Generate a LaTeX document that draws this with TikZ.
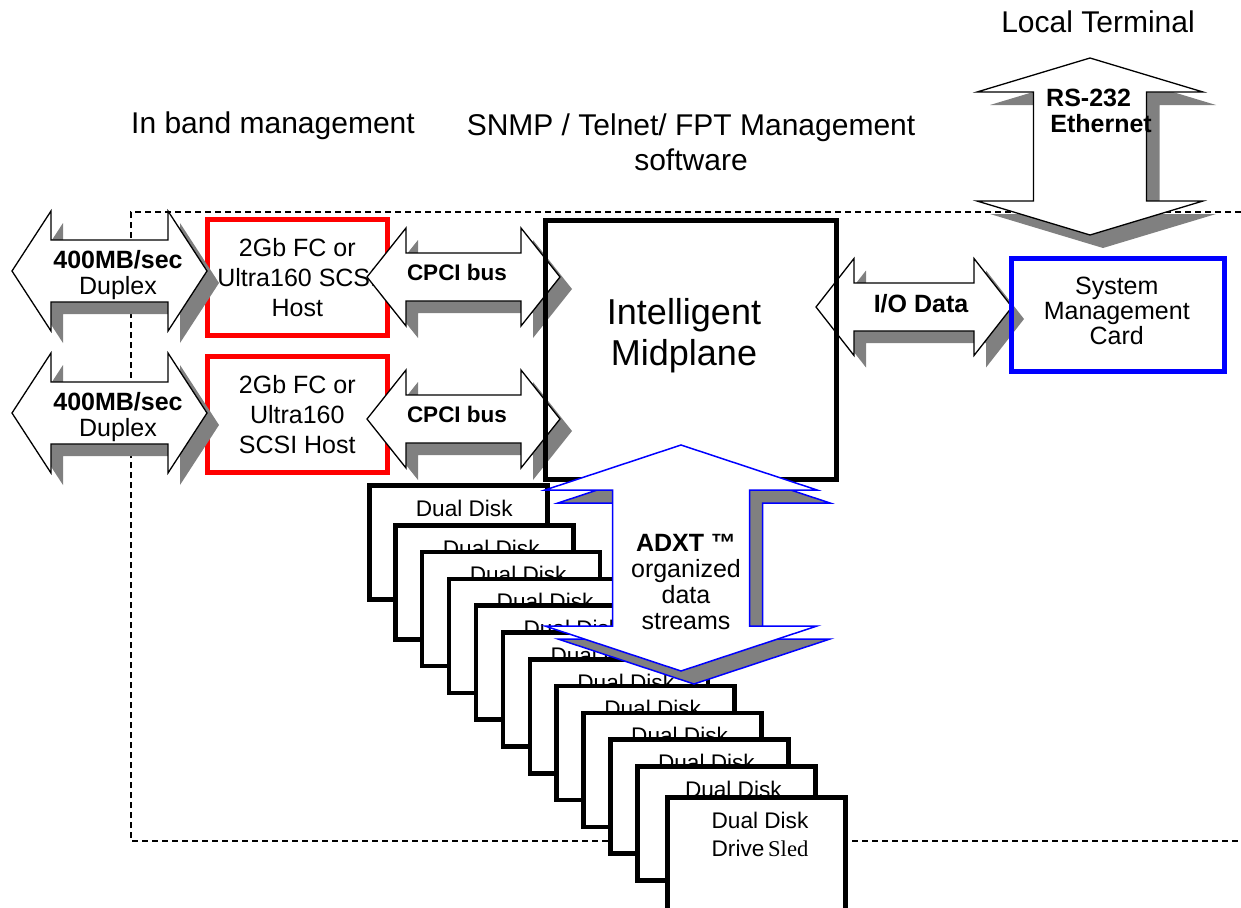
\documentclass[tikz,border=0pt]{standalone}
\usepackage{fontspec}
\setmainfont{Liberation Sans}
\newfontfamily\sledfont{Liberation Serif}
\usetikzlibrary{positioning,calc}

\newcommand{\fsTop}{\fontsize{30}{35}\selectfont}
\newcommand{\fsMid}{\fontsize{25}{30}\selectfont}
\newcommand{\fsBus}{\fontsize{22.5}{27}\selectfont}
\newcommand{\fsDisk}{\fontsize{22.6}{28}\selectfont}
\newcommand{\fsBig}{\fontsize{36}{41}\selectfont}

% block arrow outlines: x1, x2, yc, head length, shaft half, head half
\newcommand{\hdpath}[6]{(#1,#3) -- ({#1+#4},{#3-#6}) -- ({#1+#4},{#3-#5}) -- ({#2-#4},{#3-#5}) -- ({#2-#4},{#3-#6}) -- (#2,#3) -- ({#2-#4},{#3+#6}) -- ({#2-#4},{#3+#5}) -- ({#1+#4},{#3+#5}) -- ({#1+#4},{#3+#6}) -- cycle}
% xc, y1, y2, head length, shaft half, head half
\newcommand{\vdpath}[6]{(#1,#2) -- ({#1+#6},{#2+#4}) -- ({#1+#5},{#2+#4}) -- ({#1+#5},{#3-#4}) -- ({#1+#6},{#3-#4}) -- (#1,#3) -- ({#1-#6},{#3-#4}) -- ({#1-#5},{#3-#4}) -- ({#1-#5},{#2+#4}) -- ({#1-#6},{#2+#4}) -- cycle}

\begin{document}
\begin{tikzpicture}[x=1pt, y=-1pt,
  frame/.style={line width=1.5, dash pattern=on 6pt off 4pt},
  arrshadow/.style={fill=gray, draw=none, shift={(12,12)}},
  barrow/.style={draw=black, fill=white, line width=1.3},
  xarrow/.style={draw=blue, fill=white, line width=1.5},
  toplbl/.style={font=\fsTop, inner sep=0},
  hostbox/.style={draw=red, line width=4.5, minimum width=180, minimum height=116, anchor=north west, align=center, font=\fsMid},
  midbox/.style={draw, line width=5, minimum width=291, minimum height=259, anchor=north west},
  smcbox/.style={draw=blue, line width=4.5, minimum width=213, minimum height=113, anchor=north west},
  disk/.style={draw, fill=white, line width=4.5, minimum width=178, minimum height=114, anchor=north west, inner sep=0},
  disktxt/.style={font=\fsDisk, inner sep=0, align=center},
  arrtxt/.style={font=\fontsize{25}{26}\selectfont, inner sep=0, align=center}]
  \useasboundingbox (0,0) rectangle (1241,907);

  \draw[frame] (1241,212) -- (131,212) -- (131,841) -- (1241,841);

  \node[toplbl] (lterm) at (1098,22) {Local Terminal};
  \node[toplbl] (inband) at (273,126) {In band management};
  \node[toplbl, align=center] (snmp) at (691,142) {SNMP / Telnet/ FPT Management\\software};

  \node[hostbox] (hosta) at (205,217) {2Gb FC or\\Ultra160 SCSI\\Host};
  \node[hostbox] (hostb) at (205,354) {2Gb FC or\\Ultra160\\SCSI Host};

  % link arrows
  \foreach \yc/\nm in {271/a,413/b}{
    \fill[arrshadow] \hdpath{12}{207}{\yc}{39}{31}{60};
    \draw[barrow] \hdpath{12}{207}{\yc}{39}{31}{60};
    \node[arrtxt] (rate\nm) at (118,\yc+4) {\textbf{400MB/sec}\\Duplex};
    \fill[arrshadow] \hdpath{367}{560}{\yc+6}{39}{24}{49};
    \draw[barrow] \hdpath{367}{560}{\yc+6}{39}{24}{49};
    \node[arrtxt, font=\bfseries\fsBus] (bus\nm) at (457,\yc+1) {CPCI bus};
  }
  \fill[arrshadow] \hdpath{816}{1012}{307}{38}{24}{48.5};
  \draw[barrow] \hdpath{816}{1012}{307}{38}{24}{48.5};
  \node[arrtxt, font=\bfseries\fontsize{25}{26}\selectfont] (iodata) at (921,304) {I/O Data};

  \fill[arrshadow, shift={(1,1)}] \vdpath{1090}{58}{235}{34}{56.5}{113};
  \draw[barrow] \vdpath{1090}{58}{235}{34}{56.5}{113};
  \node[arrtxt, align=left, anchor=west, font=\bfseries\fontsize{25}{26}\selectfont] (rs) at (1046,111) {RS-232\\\,Ethernet};

  \node[midbox] (mid) at (543,218) {};
  \node[font=\fsBig, align=center, inner sep=0] (midtxt) at (684,336) {Intelligent\\Midplane};
  \node[smcbox] (smc) at (1009,256) {};
  \node[arrtxt, font=\fontsize{25}{25}\selectfont] (smctxt) at ($(smc.center)+(-1,-4)$) {System\\Management\\Card};

  % disk sleds
  \node[disk] (d1) at (367,483) {};
  \node[disktxt] (dt1) at ($(d1.north)+(6,25)$) {Dual Disk};
  \foreach \i in {2,...,11}{
    \node[disk] (d\i) at ({393+(\i-2)*26.9},{523+(\i-2)*26.8}) {};
    \node[disktxt] (dt\i) at ($(d\i.north)+(7,25)$) {Dual Disk};
  }
  \node[disk, minimum height=140] (d12) at (665,795) {};
  \node[disktxt] (dt12) at (760,834) {Dual Disk\\Drive{\sledfont\,Sled}};

  \filldraw[fill=gray, draw=blue, line width=1.5, shift={(13,13)}] \vdpath{681}{445}{671}{45}{68.5}{136};
  \draw[xarrow] \vdpath{681}{445}{671}{45}{68.5}{136};
  \node[arrtxt] (adxt) at (686,582) {\textbf{ADXT ™}\\organized\\data\\streams};
\end{tikzpicture}
\end{document}
